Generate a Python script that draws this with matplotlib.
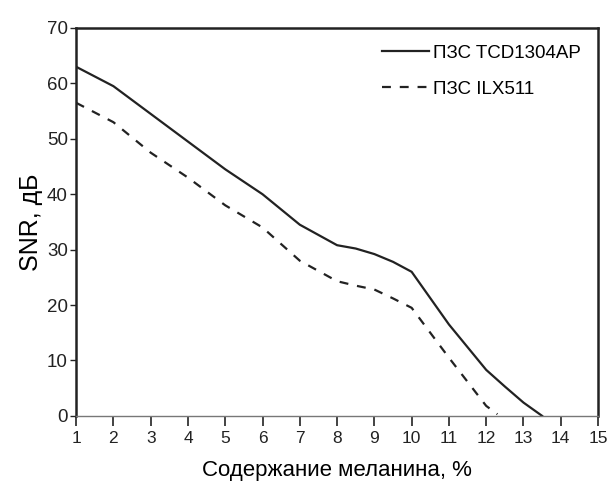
import matplotlib
matplotlib.use("Agg")
import matplotlib.pyplot as plt

plt.rcParams['font.family'] = ['Liberation Sans', 'DejaVu Sans']

# SNR vs melanin content for two CCD sensors
melanin_tcd = [1, 2, 3, 4, 5, 6, 7, 8, 8.5, 9, 9.5, 10, 11, 12, 12.5, 13, 13.5]
snr_tcd = [63, 59.5, 54.5, 49.5, 44.5, 40, 34.5, 30.8, 30.2, 29.2, 27.8, 26, 16.5, 8.3, 5.3, 2.4, 0]

melanin_ilx = [1, 2, 3, 4, 5, 6, 7, 8, 8.5, 9, 9.5, 10, 11, 12, 12.3]
snr_ilx = [56.5, 53, 47.5, 43, 38, 34, 28, 24.3, 23.5, 22.8, 21.2, 19.5, 10.5, 1.8, 0.3]

xticks = list(range(1, 16))
yticks = list(range(0, 71, 10))

fig = plt.figure(figsize=(6.09, 4.91), dpi=100)
ax = fig.add_axes([0.125, 0.153, 0.857, 0.79])

ax.plot(melanin_tcd, snr_tcd, color='#222222', lw=1.6, label='ПЗС TCD1304AP')
ax.plot(melanin_ilx, snr_ilx, color='#222222', lw=1.6, ls=(0, (4, 4)), label='ПЗС ILX511')

ax.set_xlim(1, 15)
ax.set_ylim(0, 70)
ax.set_xticks(xticks)
ax.set_yticks(yticks)
ax.tick_params(axis='y', direction='out', length=4, width=1.0, pad=2,
               labelsize=13.5, colors='#222222')
ax.tick_params(axis='x', direction='out', length=7, width=1.2, pad=4,
               labelsize=12.5, colors='#222222')
for s in ax.spines.values():
    s.set_linewidth(1.8)
    s.set_color('#222222')
# the bottom axis line is a thin grey rule
ax.spines['bottom'].set_linewidth(1.0)
ax.spines['bottom'].set_color('#777777')

ax.set_xlabel('Содержание меланина, %', fontsize=16, labelpad=10)
ax.set_ylabel('SNR, дБ', fontsize=18, labelpad=3)

ax.legend(loc='upper right', frameon=False, fontsize=13.5, handlelength=2.5,
          handletextpad=0.25, labelspacing=1.0, borderaxespad=0.3,
          borderpad=0.6)

fig.savefig('out.png', dpi=100)
